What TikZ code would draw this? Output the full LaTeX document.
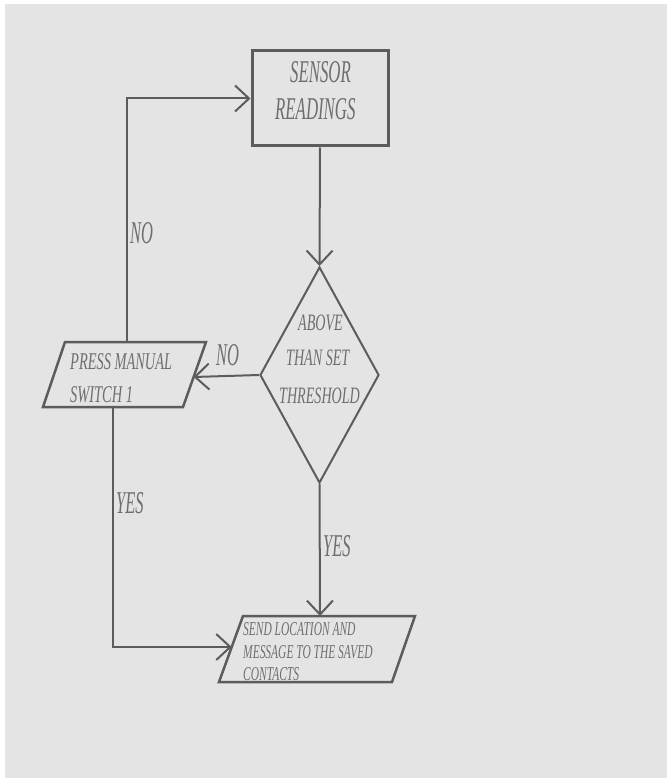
\documentclass[tikz,border=0pt]{standalone}
\usepackage{fontspec}
\usetikzlibrary{shapes.geometric,arrows.meta}
\newfontfamily\fSensor[FakeStretch=0.53]{Liberation Serif}
\newfontfamily\fDia[FakeStretch=0.6]{Liberation Serif}
\newfontfamily\fPress[FakeStretch=0.6]{Liberation Serif}
\newfontfamily\fLab[FakeStretch=0.52]{Liberation Serif}
\newfontfamily\fSend[FakeStretch=0.585]{Liberation Serif}
\definecolor{bg}{HTML}{E4E4E4}
\definecolor{ln}{HTML}{5C5C5C}
\definecolor{tx}{HTML}{6E6E6E}
\begin{document}
\begin{tikzpicture}[x=1pt,y=-1pt,
  box/.style={draw=ln,line width=3pt,minimum width=136pt,minimum height=95pt,inner sep=0pt},
  dia/.style={diamond,draw=ln,line width=2pt,minimum width=119pt,minimum height=216pt,inner sep=0pt},
  para/.style={draw=ln,line width=2.5pt,line join=miter},
  conn/.style={draw=ln,line width=2pt,-{Straight Barb[length=14pt,width=26pt,line width=2pt]}},
  line/.style={draw=ln,line width=2pt},
  txt/.style={text=tx,inner sep=0pt,anchor=base west},
  tSensor/.style={txt,font=\fSensor\itshape\fontsize{31.7}{32}\selectfont},
  tDia/.style={txt,font=\fDia\itshape\fontsize{23.5}{24}\selectfont},
  tPress/.style={txt,font=\fPress\itshape\fontsize{24}{24}\selectfont},
  tLab/.style={txt,font=\fLab\itshape\fontsize{31.7}{32}\selectfont},
  tSend/.style={txt,font=\fSend\itshape\fontsize{19.6}{20}\selectfont}]
\useasboundingbox (0,0) rectangle (667,778);
\fill[white] (0,0) rectangle (667,778);
\fill[bg] (5,4) rectangle (667,778);

% sensor box
\node[box] (sensor) at (320,98.5) {};
\node[tSensor] (s1) at (290,83) {SENSOR};
\node[tSensor] (s2) at (275,120) {READINGS};

% decision diamond
\node[dia] (dec) at (319.5,375) {};
\node[tDia] (d1) at (298,330) {ABOVE};
\node[tDia] (d2) at (286,365) {THAN SET};
\node[tDia] (d3) at (279,403) {THRESHOLD};

% press manual switch parallelogram
\coordinate (p1) at (65,342);
\coordinate (p2) at (206,342);
\coordinate (p3) at (183,407);
\coordinate (p4) at (43,407);
\coordinate (pR) at (193.6,377);
\coordinate (pT) at (127,342);
\coordinate (pB) at (113,407);
\draw[para] (p1) -- (p2) -- (p3) -- (p4) -- cycle;
\node[tPress] (m1) at (70,369) {PRESS MANUAL};
\node[tPress] (m2) at (70,402) {SWITCH 1};

% send parallelogram
\coordinate (q1) at (243,616);
\coordinate (q2) at (415,616);
\coordinate (q3) at (392,682);
\coordinate (q4) at (219,682);
\coordinate (qL) at (231.7,647);
\coordinate (qT) at (320,616);
\draw[para] (q1) -- (q2) -- (q3) -- (q4) -- cycle;
\node[tSend] (n1) at (243,635) {SEND LOCATION AND};
\node[tSend] (n2) at (243,658) {MESSAGE TO THE SAVED};
\node[tSend] (n3) at (243,680) {CONTACTS};

% connectors
\draw[conn] (sensor.south) -- (dec.north);
\draw[conn] (dec.west) -- (pR);
\draw[conn] (pT) |- (sensor.west);
\draw[conn] (pB) |- (qL);
\draw[conn] (dec.south) -- (qT);

% labels
\node[tLab] (no1) at (130,243) {NO};
\node[tLab] (no2) at (216,365) {NO};
\node[tLab] (yes1) at (116,513) {YES};
\node[tLab] (yes2) at (323,556) {YES};
\end{tikzpicture}
\end{document}
